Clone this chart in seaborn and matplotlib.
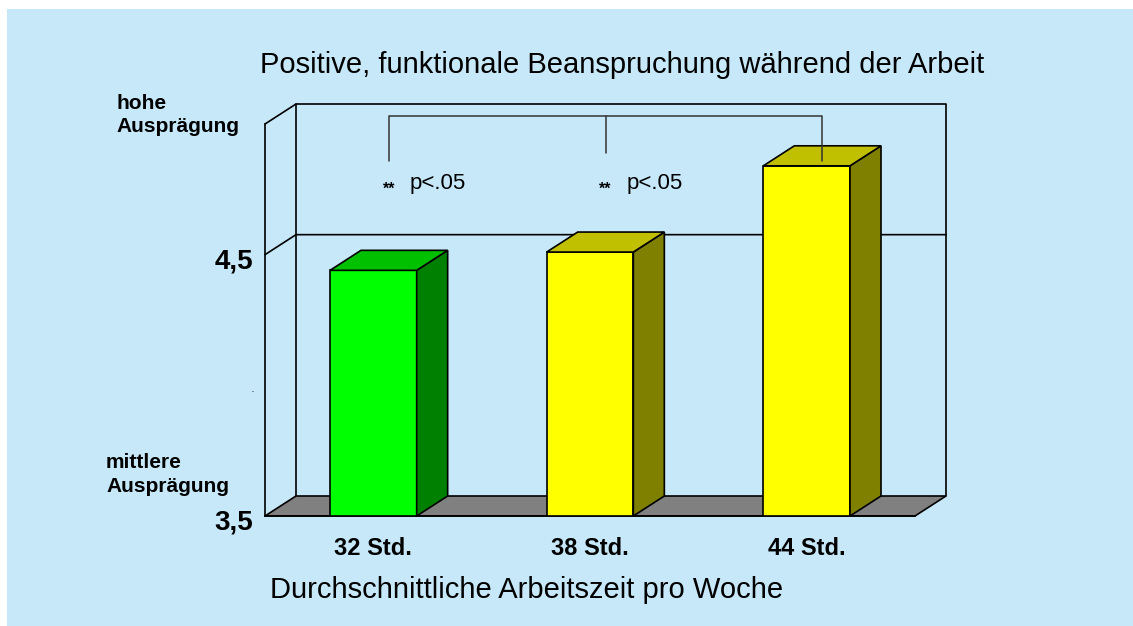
import matplotlib
matplotlib.use('Agg')
import matplotlib.pyplot as plt
import matplotlib.transforms as mtransforms
from matplotlib.patches import Polygon, Rectangle
import seaborn as sns

# ─── Data ─────────────────────────────────────────────────────────────────────
categories = ['32 Std.', '38 Std.', '44 Std.']
values = [4.44, 4.51, 4.84]
front_colors = ['#00FF00', '#FFFF00', '#FFFF00']
top_colors = ['#00C000', '#C0C000', '#C0C000']
side_colors = ['#008000', '#808000', '#808000']
y_ticks = [3.5, 4.0, 4.5]
y_tick_labels = ['3,5', '.', '4,5']
sig_labels = ['p<.05', 'p<.05']

# ─── Style ────────────────────────────────────────────────────────────────────
W, H = 1133, 626
BG = '#C7E8F8'
sns.set_theme(style='white')
plt.rcParams['font.family'] = ['Liberation Sans', 'DejaVu Sans']


def fx(px):
    return px / W


def fy(py):
    return 1 - py / H


fig = plt.figure(figsize=(W / 100, H / 100), dpi=100)
fig.patch.set_facecolor('white')
fig.patches.append(Rectangle((fx(7), 0), 1 - fx(7), fy(9), transform=fig.transFigure,
                             facecolor=BG, edgecolor='none', zorder=-5))

# front plane of the 3D box
ax = fig.add_axes([fx(265), fy(516), fx(650), (516 - 124) / H])
ax.set_facecolor('none')

sns.barplot(x=categories, y=values, hue=categories, palette=front_colors,
            width=0.4, edgecolor='black', linewidth=1.2, saturation=1,
            legend=False, ax=ax, zorder=3)
bars = list(ax.patches)

x0, x1 = -0.5, 2.5
y0, y1 = 3.5, 5.0
ax.set_xlim(x0, x1)
ax.set_ylim(y0, y1)

# depth of the 3D effect in data units (31 px right, 20 px up)
dx = 31 / (650 / (x1 - x0))
dy = 20 / (392 / (y1 - y0))

lk = dict(color='black', lw=1.2, clip_on=False, zorder=1)
# back wall + left wall
ax.plot([x0 + dx, x0 + dx, x1 + dx, x1 + dx], [y0 + dy, y1 + dy, y1 + dy, y0 + dy], **lk)
ax.plot([x0, x0 + dx], [y1, y1 + dy], **lk)
# gridline at 4,5
ax.plot([x0, x0 + dx, x1 + dx], [4.5, 4.5 + dy, 4.5 + dy], **lk)
# floor
ax.add_patch(Polygon([(x0, y0), (x0 + dx, y0 + dy), (x1 + dx, y0 + dy), (x1, y0)],
                     closed=True, facecolor='#808080', edgecolor='black', lw=1.2,
                     clip_on=False, zorder=1.5))

# side and top faces of the bars
for bar, tc, sc in zip(bars, top_colors, side_colors):
    bl = bar.get_x()
    br = bl + bar.get_width()
    h = bar.get_height()
    ax.add_patch(Polygon([(br, y0), (br + dx, y0 + dy), (br + dx, h + dy), (br, h)],
                         closed=True, facecolor=sc, edgecolor='black', lw=1.2,
                         clip_on=False, zorder=3))
    ax.add_patch(Polygon([(bl, h), (bl + dx, h + dy), (br + dx, h + dy), (br, h)],
                         closed=True, facecolor=tc, edgecolor='black', lw=1.2,
                         clip_on=False, zorder=3))

# significance bracket
bx = [i + dx / 2 for i in range(len(categories))]
bk = dict(color='#333333', lw=1.1, clip_on=False, zorder=5)
ax.plot([bx[0], bx[0], bx[2], bx[2]], [4.86, 5.03, 5.03, 4.86], **bk)
ax.plot([bx[1], bx[1]], [5.03, 4.89], **bk)
for i, lab in enumerate(sig_labels):
    ax.text(bx[i], 4.752, '**', ha='center', va='center', fontsize=11.5,
            fontweight='bold', color='black', zorder=6)
    ax.text(bx[i] + 0.095, 4.774, lab, ha='left', va='center', fontsize=16,
            color='black', zorder=6)

# axes cosmetics
for s in ['top', 'right']:
    ax.spines[s].set_visible(False)
for s in ['left', 'bottom']:
    ax.spines[s].set_color('black')
    ax.spines[s].set_linewidth(1.2)
    ax.spines[s].set_zorder(4)

# y labels as text, slightly below the tick value like the original
ax.set_yticks([])
ylab_tr = ax.get_yaxis_transform() + mtransforms.ScaledTranslation(-12 / 100, -4 / 100,
                                                                   fig.dpi_scale_trans)
for t, lab in zip(y_ticks, y_tick_labels):
    ax.text(0, t, lab, transform=ylab_tr, ha='right', va='center_baseline',
            fontsize=20 if lab != '.' else 5, fontweight='bold', color='black')

ax.set_xticks(range(len(categories)))
ax.set_xticklabels(categories, fontsize=17, fontweight='bold')
ax.tick_params(axis='x', length=0, pad=15, colors='black')
ax.set_xlabel('')
ax.set_ylabel('')

# titles and side labels
fig.text(fx(622), fy(65), 'Positive, funktionale Beanspruchung während der Arbeit',
         ha='center', va='center', fontsize=21, color='black')
fig.text(fx(527), fy(590), 'Durchschnittliche Arbeitszeit pro Woche',
         ha='center', va='center', fontsize=21, color='black')
fig.text(fx(116), fy(94), 'hohe\nAusprägung', ha='left', va='top', fontsize=15,
         fontweight='bold', color='black', linespacing=1.3)
fig.text(fx(106), fy(453), 'mittlere\nAusprägung', ha='left', va='top', fontsize=15,
         fontweight='bold', color='black', linespacing=1.3)

fig.savefig('out.png', dpi=100)
